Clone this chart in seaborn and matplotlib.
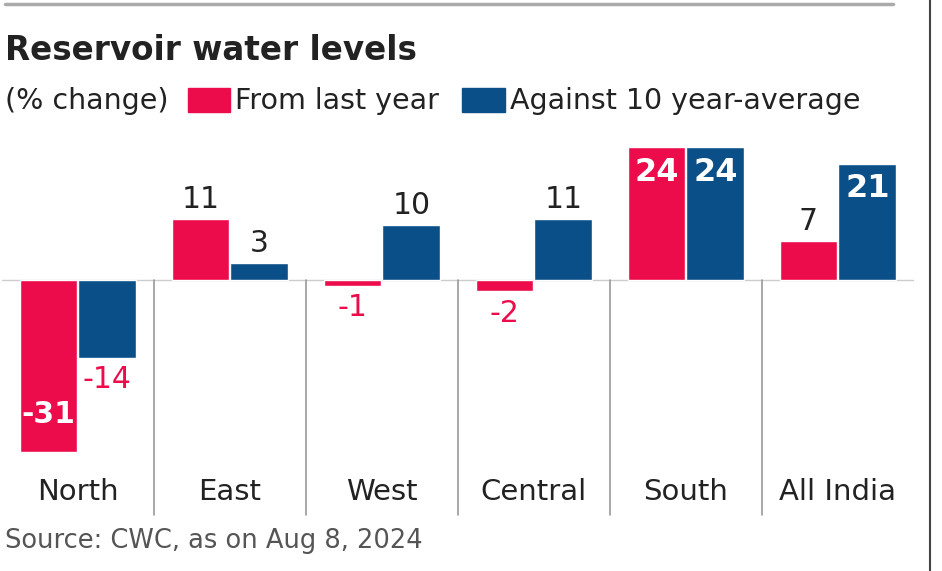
import matplotlib
matplotlib.use('Agg')
import matplotlib.pyplot as plt
import pandas as pd
import seaborn as sns
from matplotlib.patches import Rectangle
from matplotlib.lines import Line2D

regions = ['North', 'East', 'West', 'Central', 'South', 'All India']
from_last_year = [-31, 11, -1, -2, 24, 7]
against_10yr_avg = [-14, 3, 10, 11, 24, 21]
series = ['From last year', 'Against 10 year-average']

RED = '#EC0C4B'
BLUE = '#0A4F87'
DARK = '#222222'

df = pd.DataFrame({
    'Region': regions * 2,
    'Change': from_last_year + against_10yr_avg,
    'Series': [series[0]] * len(regions) + [series[1]] * len(regions),
})

sns.set_style('white')
plt.rcParams['font.family'] = ['DejaVu Sans']

fig = plt.figure(figsize=[9.42, 5.71], dpi=100)
ax = fig.add_axes([0.002, 1 - 460 / 571, 912 / 942, 320 / 571])

sns.barplot(data=df, x='Region', y='Change', hue='Series', palette=[RED, BLUE],
            width=0.775, gap=0.02, saturation=1, legend=False, ax=ax)

ax.set_ylim(-32.5, 25.27)
ax.set_xlim(-0.5, 5.5)
ax.set_xlabel('')
ax.set_ylabel('')
ax.set_yticks([])
ax.tick_params(axis='x', length=0, pad=13, labelsize=21, labelcolor=DARK)
sns.despine(ax=ax, left=True, bottom=True)
ax.axhline(0, color='#cccccc', lw=1, zorder=0)

# group separators
for i in range(1, len(regions)):
    ax.plot([i - 0.5, i - 0.5], [0, -42.4], color='#999999', lw=1.2, clip_on=False, zorder=0)

# value labels
for cont, vals in zip(ax.containers, [from_last_year, against_10yr_avg]):
    for bar, v in zip(cont, vals):
        x = bar.get_x() + bar.get_width() / 2
        if abs(v) >= 20:
            off = -18 if v > 0 else 27
            ax.annotate(str(v), (x, v), xytext=(0, off), textcoords='offset points',
                        ha='center', va='center', color='white',
                        fontsize=23 if v > 0 else 21.5, fontweight='bold')
        else:
            off = 14 if v > 0 else -16
            ax.annotate(str(v), (x, v), xytext=(0, off), textcoords='offset points',
                        ha='center', va='center', color=DARK if v > 0 else RED,
                        fontsize=21.5)

# title, subtitle & legend
fig.text(5 / 942, 1 - 50 / 571, 'Reservoir water levels', fontsize=23.5, fontweight='bold',
         color=DARK, va='center', ha='left')
fig.text(5 / 942, 1 - 101 / 571, '(% change)', fontsize=20.5, color=DARK, va='center')
fig.patches.append(Rectangle((188 / 942, 1 - 112 / 571), 42 / 942, 24 / 571,
                             transform=fig.transFigure, color=RED))
fig.text(235 / 942, 1 - 101 / 571, series[0], fontsize=20.5, color=DARK, va='center')
fig.patches.append(Rectangle((462 / 942, 1 - 112 / 571), 43 / 942, 24 / 571,
                             transform=fig.transFigure, color=BLUE))
fig.text(510 / 942, 1 - 101 / 571, series[1], fontsize=20.5, color=DARK, va='center')

fig.text(5 / 942, 1 - 541 / 571, 'Source: CWC, as on Aug 8, 2024', fontsize=18.5,
         color='#555555', va='center')

# frame lines
fig.add_artist(Line2D([5 / 942, 893 / 942], [1 - 4 / 571, 1 - 4 / 571], color='#aaaaaa',
                      lw=2.5, transform=fig.transFigure))
fig.add_artist(Line2D([930 / 942, 930 / 942], [0, 1], color='#444444', lw=1.5,
                      transform=fig.transFigure))

plt.savefig('out.png', dpi=100)
